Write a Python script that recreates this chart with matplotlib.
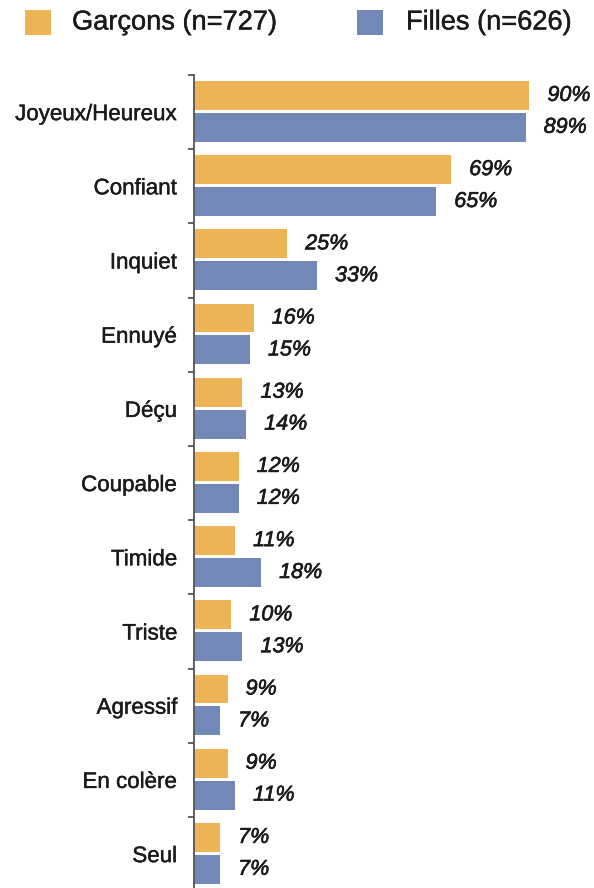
import matplotlib
matplotlib.use('Agg')
from matplotlib import pyplot as plt
from matplotlib.patches import Rectangle
import matplotlib.patheffects as pe
import numpy as np

categories = ['Joyeux/Heureux', 'Confiant', 'Inquiet', 'Ennuyé', 'Déçu', 'Coupable',
              'Timide', 'Triste', 'Agressif', 'En colère', 'Seul']
garcons = [90, 69, 25, 16, 13, 12, 11, 10, 9, 9, 7]
filles = [89, 65, 33, 15, 14, 12, 18, 13, 7, 11, 7]
series_names = ['Garçons (n=727)', 'Filles (n=626)']

ORANGE = '#EDB354'
BLUE = '#7289B7'
INK = '#1a1a1a'
AXIS = '#555555'

plt.rcParams['font.family'] = ['Liberation Sans', 'DejaVu Sans']

# slightly heavier strokes on the text
heavy = [pe.withStroke(linewidth=0.45, foreground=INK)]
light = [pe.withStroke(linewidth=0.3, foreground=INK)]

W, H = 594, 888
fig = plt.figure(figsize=(W / 100, H / 100), dpi=100)

# plot area in pixels: value axis starts at x=194, first group boundary at y=75
x0, y0 = 194, 75
px_per_pct = 3.726
px_per_group = 74.2
ax = fig.add_axes([x0 / W, 0, 1 - x0 / W, 1 - y0 / H])
ax.set_xlim(0, (W - x0) / px_per_pct)
ax.set_ylim(-0.5 + (H - y0) / px_per_group, -0.5)

y = np.arange(len(categories))
h = 0.39
ax.barh(y - 0.225, garcons, height=h, color=ORANGE, linewidth=0)
ax.barh(y + 0.205, filles, height=h, color=BLUE, linewidth=0)

for yy, g, f in zip(y, garcons, filles):
    for val, off in ((g, -0.225), (f, 0.205)):
        ax.annotate(f'{val}%', (val, yy + off), xytext=(13, 0), textcoords='offset points',
                    ha='left', va='center', fontsize=15.5, style='italic', color=INK,
                    path_effects=heavy)

for s in ['top', 'right', 'bottom']:
    ax.spines[s].set_visible(False)
ax.spines['left'].set_color(AXIS)
ax.spines['left'].set_linewidth(1.3)
ax.set_xticks([])
ax.set_yticks(y)
ax.set_yticklabels(categories, fontsize=16.1, color=INK)
for lab in ax.get_yticklabels():
    lab.set_path_effects(light)
ax.set_yticks(np.arange(-0.5, len(categories) - 0.5, 1), minor=True)
ax.tick_params(axis='y', which='major', length=0, pad=12)
ax.tick_params(axis='y', which='minor', length=4.5, width=1.3, color=AXIS)

# legend drawn by hand at the top
def fx(px):
    return px / W

def fy(px):
    return 1 - px / H

for sq_x, txt_x, color, name in ((25, 72, ORANGE, series_names[0]),
                                  (357, 406, BLUE, series_names[1])):
    fig.add_artist(Rectangle((fx(sq_x), fy(35)), 26 / W, 25 / H,
                             transform=fig.transFigure, color=color, linewidth=0))
    fig.text(fx(txt_x), fy(22.5), name, ha='left', va='center', fontsize=19.6, color=INK,
             path_effects=light)

fig.savefig('out.png', dpi=100)
